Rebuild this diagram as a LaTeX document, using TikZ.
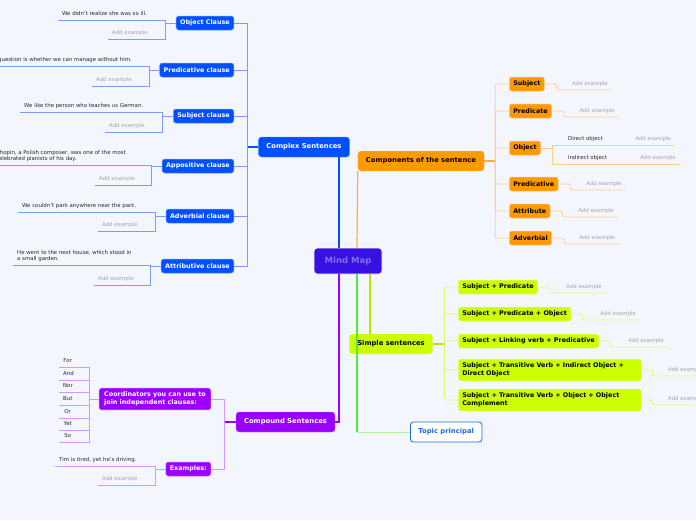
\documentclass[tikz,border=0pt]{standalone}
\usepackage{fontspec}
\setmainfont{DejaVu Sans}
\usetikzlibrary{positioning}

\definecolor{bgcol}{RGB}{244,246,253}
\definecolor{mmfill}{RGB}{56,16,226}
\definecolor{mmtext}{RGB}{128,112,242}
\definecolor{cxblue}{RGB}{0,80,255}
\definecolor{cxline}{RGB}{125,155,255}
\definecolor{cporange}{RGB}{255,153,0}
\definecolor{cpline}{RGB}{255,205,140}
\definecolor{sslime}{RGB}{204,255,0}
\definecolor{ssline}{RGB}{222,250,120}
\definecolor{cmpurple}{RGB}{153,0,255}
\definecolor{cmline}{RGB}{210,150,255}
\definecolor{tpgreen}{RGB}{85,235,50}
\definecolor{tpgreenl}{RGB}{175,245,160}
\definecolor{tpblue}{RGB}{25,110,220}
\definecolor{extxt}{RGB}{40,40,40}
\definecolor{addtxt}{RGB}{165,165,170}

\begin{document}
\begin{tikzpicture}[
    x=1pt, y=-1pt,
    central/.style={
        draw=white, line width=0.8pt, fill=mmfill, text=mmtext, rounded corners=3pt,
        font=\fontsize{8.5}{10}\selectfont\bfseries, minimum width=68pt, minimum height=26pt
    },
    branch/.style={rounded corners=3pt, font=\fontsize{6.8}{8}\selectfont\bfseries, inner xsep=8pt, minimum height=20pt},
    subtopic/.style={
        rounded corners=2.5pt, font=\fontsize{6.4}{8}\selectfont\bfseries,
        inner xsep=4pt, inner ysep=3.8pt, minimum height=14pt, align=left
    },
    cxnode/.style={subtopic, fill=cxblue, draw=cxblue!55!white, line width=0.5pt, text=white},
    cpnode/.style={subtopic, fill=cporange, draw=cporange!55!white, line width=0.5pt, text=black},
    ssnode/.style={subtopic, fill=sslime, draw=sslime!55!white, line width=0.5pt, text=black},
    cmnode/.style={subtopic, fill=cmpurple, draw=cmpurple!55!white, line width=0.5pt, text=white},
    extext/.style={
        font=\fontsize{5.4}{6.6}\selectfont, text=extxt, text depth=0pt,
        inner xsep=4pt, inner ysep=4pt, align=left, anchor=south west
    },
    addex/.style={extext, text=addtxt},
    cxlink/.style={draw=cxblue, line width=1.2pt},
    cxsub/.style={draw=cxline, line width=0.8pt},
    cplink/.style={draw=cporange!80!white, line width=1.2pt},
    cpsub/.style={draw=cpline, line width=0.8pt, rounded corners=2pt},
    sslink/.style={draw=sslime!90!black, line width=1.2pt},
    sssub/.style={draw=ssline, line width=0.8pt, rounded corners=2pt},
    cmlink/.style={draw=cmpurple, line width=1.2pt},
    cmsub/.style={draw=cmline, line width=0.8pt}
]

\useasboundingbox (0,0) rectangle (696,520);
\fill[bgcol] (0,0) rectangle (696,520);
\clip (0,0) rectangle (696,520);

% -------------------------
% Centre and main branches
% -------------------------
\node[central] (mm) at (348,261) {Mind Map};

\node[branch, fill=cxblue, draw=cxblue!55!white, text=white] (cs) at (304,147) {Complex Sentences};
\node[branch, fill=cporange, draw=cporange!55!white, text=black] (cp) at (421,161) {Components of the sentence};
\node[branch, fill=sslime, draw=sslime!55!white, text=black] (ss) at (391,344) {Simple sentences};
\node[branch, fill=cmpurple, draw=cmpurple!55!white, text=white] (cmp) at (285.5,422) {Compound Sentences};
\node[branch, fill=white, draw=tpblue, line width=0.8pt, text=tpblue, anchor=west] (tp) at (410,432) {Topic principal};

\draw[cxlink] ([xshift=-9pt]mm.north) -- ([xshift=-9pt]mm.north |- cs.south);
\draw[cplink] ([xshift=9pt]mm.north) -- (cp.south west);
\draw[sslink] ([xshift=22pt]mm.south) -- ([xshift=22pt]mm.south |- ss.north);
\draw[cmlink] ([xshift=-9pt]mm.south) |- (cmp.east);
\draw[draw=tpgreen, line width=1.2pt] ([xshift=9pt]mm.south) -- ([xshift=9pt]mm.south |- tp.west) coordinate (tpk);
\draw[draw=tpgreenl, line width=1pt] (tpk) -- (tp.west);

% -------------------------
% Complex Sentences
% -------------------------
\node[cxnode, anchor=east] (oc) at (234,23) {Object Clause};
\node[cxnode, anchor=east] (pc) at (234,70) {Predicative clause};
\node[cxnode, anchor=east] (sc) at (234,116) {Subject clause};
\node[cxnode, anchor=east] (ac) at (234,166) {Appositive clause};
\node[cxnode, anchor=east] (dc) at (234,216) {Adverbial clause};
\node[cxnode, anchor=east] (tc) at (234,266) {Attributive clause};

\draw[cxlink] (cs.west) -- ++(-11,0) coordinate (csb);
\foreach \n in {oc,pc,sc,ac,dc,tc}
    \draw[cxsub] (\n.east) -| (csb);

\node[extext] (oc1) at (58,20) {We didn't realize she was so ill.};
\node[addex] (oc2) at (108,39) {Add example};
\node[extext, anchor=south east] (pc1) at (136,66) {The question is whether we can manage without him.};
\node[addex] (pc2) at (92,86) {Add example};
\node[extext] (sc1) at (20,112) {We like the person who teaches us German.};
\node[addex] (sc2) at (105,132) {Add example};
\node[extext, anchor=south east] (ac1) at (130,165) {Chopin, a Polish composer, was one of the most\\celebrated pianists of his day.};
\node[addex] (ac2) at (95,185) {Add example};
\node[extext] (dc1) at (18,212) {We couldn't park anywhere near the park.};
\node[addex] (dc2) at (98,231) {Add example};
\node[extext] (tc1) at (13,265) {He went to the next house, which stood in\\a small garden.};
\node[addex] (tc2) at (94,285) {Add example};

\foreach \n in {oc,pc,sc,ac,dc,tc} {
    \draw[cxsub] (\n.west) -- ++(-10.5,0);
    \draw[cxsub] (\n1.south west) -| ([xshift=-10.5pt]\n.west) |- (\n2.south west);
}

% -------------------------
% Components of the sentence
% -------------------------
\node[cpnode, anchor=west] (sb) at (509,84) {Subject};
\node[cpnode, anchor=west] (pr) at (509,111) {Predicate};
\node[cpnode, anchor=west] (ob) at (509,148) {Object};
\node[cpnode, anchor=west] (pv) at (509,184) {Predicative};
\node[cpnode, anchor=west] (at) at (509,211) {Attribute};
\node[cpnode, anchor=west] (av) at (509,238) {Adverbial};

\draw[cplink] (cp.east) -- ++(11,0) coordinate (cpb);
\foreach \n in {sb,pr,ob,pv,at,av}
    \draw[cpsub] (\n.west) -| (cpb);

\node[addex, anchor=south east] (sb1) at (612,90) {Add example};
\node[addex, anchor=south east] (pr1) at (619,117) {Add example};
\node[addex, anchor=south east] (pv1) at (626,190) {Add example};
\node[addex, anchor=south east] (at1) at (618,217) {Add example};
\node[addex, anchor=south east] (av1) at (619,244) {Add example};
\foreach \n in {sb,pr,pv,at,av}
    \draw[cpsub] (\n.east) -- ++(12,0) |- (\n1.south east);

% Object: direct and indirect
\draw[cpsub] (ob.east) -- ++(11,0) coordinate (obb);
\node[extext] (od) at (564,145) {Direct object};
\node[addex, anchor=south east] (od1) at (675,145) {Add example};
\node[extext] (oi) at (564,164) {Indirect object};
\node[addex, anchor=south east] (oi1) at (680,164) {Add example};
\draw[cpsub, rounded corners=0pt] (od1.south east) -| (obb) |- (oi1.south east);

% -------------------------
% Simple sentences
% -------------------------
\node[ssnode, anchor=west] (s1) at (458,287) {Subject + Predicate};
\node[ssnode, anchor=west] (s2) at (458,314) {Subject + Predicate + Object};
\node[ssnode, anchor=west] (s3) at (458,341) {Subject + Linking verb + Predicative};
\node[ssnode, anchor=west, text width=175pt] (s4) at (458,370) {Subject + Transitive Verb + Indirect Object +\\Direct Object};
\node[ssnode, anchor=west, text width=175pt] (s5) at (458,400) {Subject + Transitive Verb + Object + Object\\Complement};

\draw[sslink] (ss.east) -- ++(11.5,0) coordinate (ssb);
\foreach \n in {s1,s2,s3,s4,s5}
    \draw[sssub] (\n.west) -| (ssb);

\node[addex, anchor=south east] (s1a) at (606,293) {Add example};
\node[addex, anchor=south east] (s2a) at (640,320) {Add example};
\node[addex, anchor=south east] (s3a) at (668,347) {Add example};
\node[addex] (s4a) at (664,376) {Add example};
\node[addex] (s5a) at (664,405) {Add example};
\foreach \n in {s1,s2,s3,s4,s5}
    \draw[sssub] (\n.east) -- ++(11,0) |- (\n a.south east);

% -------------------------
% Compound Sentences
% -------------------------
\node[cmnode, anchor=east, inner xsep=5pt] (cj) at (211,399) {Coordinators you can use to\\join independent clauses:};
\node[cmnode, anchor=east] (ex) at (211,469) {Examples:};

\draw[cmlink] (cmp.west) -- ++(-11,0) coordinate (cmpb);
\foreach \n in {cj,ex}
    \draw[cmsub] (\n.east) -| (cmpb);

% coordinators
\draw[cmsub] (cj.west) -- ++(-10,0) coordinate (cjb);
\foreach \w/\y [count=\i] in {For/367,And/380,Nor/392,But/405,Or/418,Yet/430,So/442} {
    \node[extext, minimum width=17pt] (cw\i) at (59,\y) {\w};
    \draw[cmsub] (cw\i.south west) -| (cjb);
}

% examples
\node[extext] (ex1) at (55,466) {Tim is tired, yet he's driving.};
\node[addex] (ex2) at (98,485) {Add example};
\draw[cmsub] (ex.west) -- ++(-10,0);
\draw[cmsub] (ex1.south west) -| ([xshift=-10pt]ex.west) |- (ex2.south west);

\end{tikzpicture}
\end{document}
